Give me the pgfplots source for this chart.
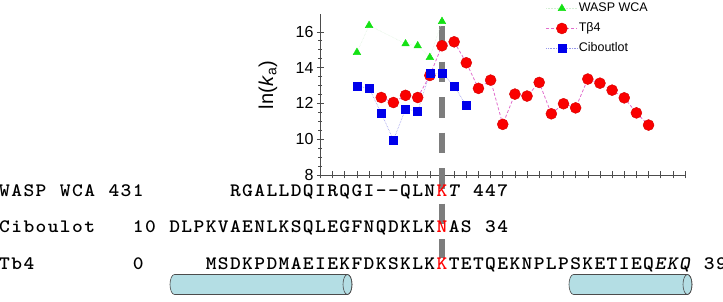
\documentclass[border=0pt]{standalone}
\usepackage{fontspec}
\setmainfont{Liberation Sans}
\newfontfamily\seqf{lmmonolt10-bold.otf}[ItalicFont=lmmonolt10-boldoblique.otf, FakeStretch=1.08]
\usepackage{pgfplots}
\pgfplotsset{compat=1.18}
\definecolor{cyl}{RGB}{180,222,228}
\definecolor{tbline}{RGB}{225,110,205}
\definecolor{ciline}{RGB}{150,150,235}
\definecolor{waline}{RGB}{212,238,212}
\definecolor{vgray}{RGB}{125,125,125}
\definecolor{mgreen}{RGB}{20,225,20}
\definecolor{mblue}{RGB}{0,0,235}
\definecolor{mred}{RGB}{250,0,0}
\newcommand{\seqfont}{\fontsize{19}{20}\seqf}
\newcommand{\seqrow}[3]{%
  \foreach \ch [count=\i from 0] in {#3} {%
    \pgfmathsetmacro{\xx}{12.15*(#1+\i)-109.35}%
    \node[anchor=base, inner sep=0pt, font=\seqfont] at (\xx pt, #2 pt) {\ch};
  }}
\newcommand{\cylinder}[2]{% #1 left extreme, #2 right extreme (tikz pt)
  \filldraw[fill=cyl, draw=black!70, line width=0.6pt]
    ({#1+4.5pt}, -99.5pt) -- ({#2-4.5pt}, -99.5pt)
    arc[start angle=90, end angle=-90, x radius=4.5pt, y radius=10pt]
    -- ({#1+4.5pt}, -119.5pt)
    arc[start angle=270, end angle=90, x radius=4.5pt, y radius=10pt] -- cycle;
  \draw[black!70, line width=0.6pt] ({#2-4.5pt}, -109.5pt) ellipse[x radius=4.5pt, y radius=10pt];
}
\begin{document}
\begin{tikzpicture}
\path[use as bounding box] (-320.5pt,-127pt) rectangle (402.5pt,175pt);
\begin{axis}[
  at={(0pt,0pt)}, anchor=south west,
  scale only axis, width=364.5pt, height=161.1pt,
  xmin=9, xmax=39, ymin=8, ymax=17,
  axis lines*=left,
  axis line style={-, black!70, line width=0.8pt},
  xtick={9,...,39}, xticklabels={},
  ytick={8,10,12,14,16}, minor y tick num=3,
  tick align=center, major tick length=7pt, minor tick length=4pt,
  tick style={black!70, line width=0.6pt},
  yticklabel style={font=\fontsize{16}{16}\selectfont},
  /pgf/number format/assume math mode=true,
  clip=false,
  legend style={draw=none, fill=none, at={(axis cs:27.56,17.64)}, anchor=north west,
    inner sep=0pt, outer sep=0pt, row sep=8pt, column sep=1pt,
    font=\fontsize{12.5}{13}\selectfont,
    nodes={inner sep=0pt, text height=9pt, text depth=3pt}},
  legend cell align=left,
  legend image code/.code={\draw[mark repeat=2,mark phase=2,#1] plot coordinates {(0pt,0pt) (15.5pt,0pt) (31pt,0pt)};},
]
\draw[vgray, line width=6pt, dash pattern=on 20.5pt off 15pt] (axis cs:19,16.32) -- (axis cs:19,3.36);
\addplot[draw=waline, line width=0.5pt, densely dotted, mark=triangle*, mark size=4.3pt,
  mark options={solid, fill=mgreen, draw=mgreen}] coordinates {
(12,14.85) (13,16.36) (16,15.33) (17,15.22) (18,14.57) (19,16.58)
};
\addlegendentry{WASP WCA}
\addplot[draw=tbline, line width=0.8pt, dash pattern=on 3pt off 2pt, mark=*, mark size=5.5pt,
  mark options={solid, fill=mred, draw=mred!85!black, line width=0.4pt}] coordinates {
(14,12.33) (15,12.05) (16,12.45) (17,12.33) (18,13.56) (19,15.22) (20,15.44)
(21,14.27) (22,12.84) (23,13.30) (24,10.83) (25,12.52) (26,12.41) (27,13.17)
(28,11.42) (29,11.98) (30,11.75) (31,13.36) (32,13.13) (33,12.74) (34,12.31)
(35,11.47) (36,10.79)
};
\addlegendentry{Tβ4}
\addplot[draw=ciline, line width=0.6pt, densely dotted, mark=square*, mark size=4pt,
  mark options={solid, fill=mblue, draw=mblue}] coordinates {
(12,12.97) (13,12.85) (14,11.46) (15,9.95) (16,11.68) (17,11.57) (18,13.68)
(19,13.68) (20,12.98) (21,11.87)
};
\addlegendentry{Ciboutlot}
\end{axis}
\node[rotate=90, inner sep=0pt, font=\fontsize{20}{20}\selectfont] at (-52.5pt,90pt) {ln(\textit{k}\textsubscript{a})};
% sequence rows
\seqrow{-17}{-21.5}{W,A,S,P}
\seqrow{-12}{-21.5}{W,C,A}
\seqrow{-8}{-21.5}{4,3,1}
\seqrow{2}{-21.5}{R,G,A,L,L,D,Q,I,R,Q,G,I,-,-,Q,L,N,\textcolor{red}{K},\textit{T}}
\seqrow{22}{-21.5}{4,4,7}
\seqrow{-17}{-58}{C,i,b,o,u,l,o,t}
\seqrow{-6}{-58}{1,0}
\seqrow{-3}{-58}{D,L,P,K,V,A,E,N,L,K,S,Q,L,E,G,F,N,Q,D,K,L,K,\textcolor{red}{N},A,S}
\seqrow{23}{-58}{3,4}
\seqrow{-17}{-94.5}{T,b,4}
\seqrow{-6}{-94.5}{0}
\seqrow{0}{-94.5}{M,S,D,K,P,D,M,A,E,I,E,K,F,D,K,S,K,L,K,\textcolor{red}{K},T,E,T,Q,E,K,N,P,L,P,S,K,E,T,I,E,Q,\textit{E},\textit{K},\textit{Q}}
\seqrow{41}{-94.5}{3,9}
\cylinder{-150.5}{31.5}
\cylinder{248.5}{371.5}
\end{tikzpicture}
\end{document}
